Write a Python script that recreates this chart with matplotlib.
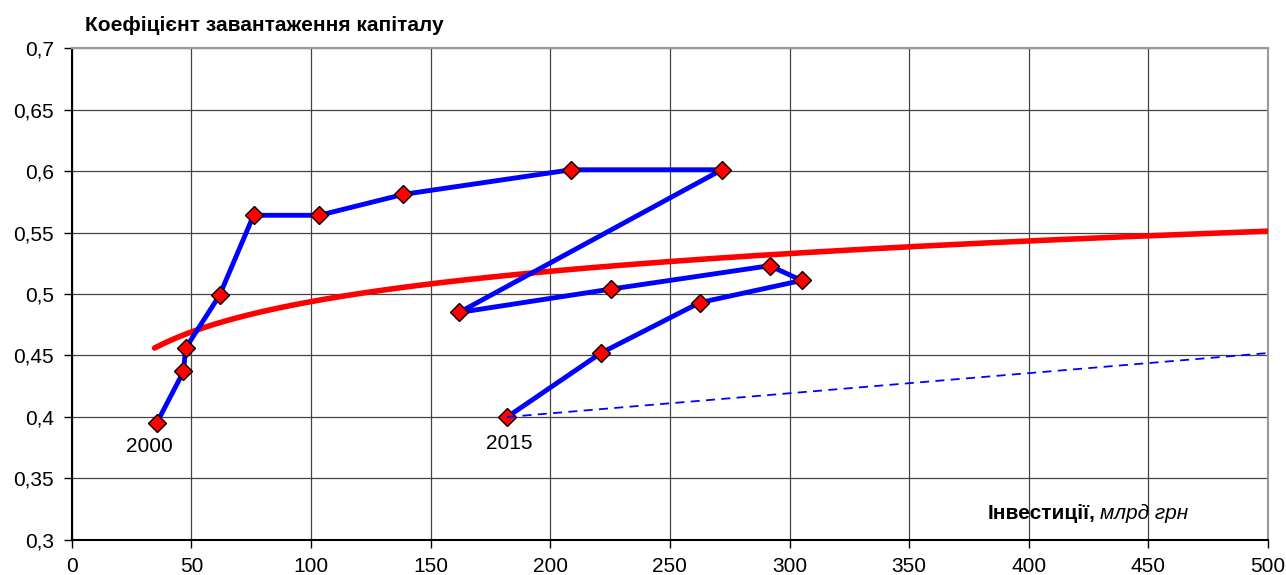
"""
Capital load factor vs investments, 2000-2015, with a log trend.
"""

import matplotlib
matplotlib.use("Agg")
import matplotlib.pyplot as plt
import numpy as np
from matplotlib.ticker import FuncFormatter, MultipleLocator

# investments, bn UAH (2000 .. 2015)
investments = [35.5, 46.7, 47.6, 61.8, 76.0, 103.5, 138.6, 208.7,
               271.7, 161.9, 225.4, 291.7, 305.1, 262.5, 221.2, 182.0]
# capital load factor
load_factor = [0.395, 0.437, 0.456, 0.499, 0.564, 0.564, 0.581, 0.601,
               0.601, 0.485, 0.504, 0.523, 0.511, 0.493, 0.452, 0.400]
# dashed projection from the 2015 point
proj_x = [182.0, 500.0]
proj_y = [0.400, 0.452]

year_labels = {"2000": 0, "2015": 15}

plt.rcParams["font.family"] = ["Liberation Sans", "DejaVu Sans"]
FS = 15


def comma_fmt(v, _pos):
    s = f"{v:.2f}".rstrip("0").rstrip(".")
    return s.replace(".", ",")


def main() -> None:
    fig = plt.figure(figsize=(12.86, 5.75), dpi=100)
    ax = fig.add_axes([0.0558, 0.0609, 0.9302, 0.8556])

    x = np.array(investments)
    y = np.array(load_factor)

    # logarithmic trend (like Excel's trendline)
    b, a = np.polyfit(np.log(x), y, 1)
    tx = np.linspace(x.min() * 0.975, 500, 300)
    ax.plot(tx, a + b * np.log(tx), color="red", lw=4.0, zorder=3,
            solid_capstyle="round")

    ax.plot(x, y, color="blue", lw=3.5, zorder=4,
            marker="D", markersize=9, markerfacecolor="red",
            markeredgecolor="black", markeredgewidth=1.0)
    ax.plot(proj_x, proj_y, color="blue", lw=1.3, ls=(0, (5, 3.5)), zorder=5)

    i0 = year_labels["2000"]
    i1 = year_labels["2015"]
    ax.text(investments[i0] - 3, load_factor[i0] - 0.011, "2000",
            fontsize=FS, ha="center", va="top")
    ax.text(investments[i1] + 1, load_factor[i1] - 0.014, "2015",
            fontsize=FS, ha="center", va="top")

    ax.set_xlim(0, 500)
    ax.set_ylim(0.3, 0.7)
    ax.xaxis.set_major_locator(MultipleLocator(50))
    ax.yaxis.set_major_locator(MultipleLocator(0.05))
    ax.yaxis.set_major_formatter(FuncFormatter(comma_fmt))
    ax.tick_params(labelsize=FS, direction="out", length=6, width=1,
                   colors="black")
    ax.tick_params(axis="y", pad=7)
    ax.tick_params(axis="x", pad=6)
    ax.grid(True, color="#444444", lw=0.9)
    ax.set_axisbelow(True)
    for side in ("top", "right"):
        ax.spines[side].set_color("#999999")
        ax.spines[side].set_linewidth(1.5)
    for side in ("left", "bottom"):
        ax.spines[side].set_linewidth(1.5)

    fig.text(85 / 1286, 1 - 31 / 575, "Коефіцієнт завантаження капіталу",
             fontsize=FS, fontweight="bold", ha="left", va="baseline")

    t1 = fig.text(988 / 1286, 1 - 519 / 575, "Інвестиції,", fontsize=FS,
                  fontweight="bold", ha="left", va="baseline")
    fig.canvas.draw()
    bb = t1.get_window_extent()
    fig.text(bb.x1 / fig.bbox.width + 4 / 1286, 1 - 519 / 575, "млрд грн",
             fontsize=FS, fontstyle="italic", ha="left", va="baseline")

    fig.savefig("out.png", dpi=100)
    plt.close(fig)


if __name__ == "__main__":
    main()
